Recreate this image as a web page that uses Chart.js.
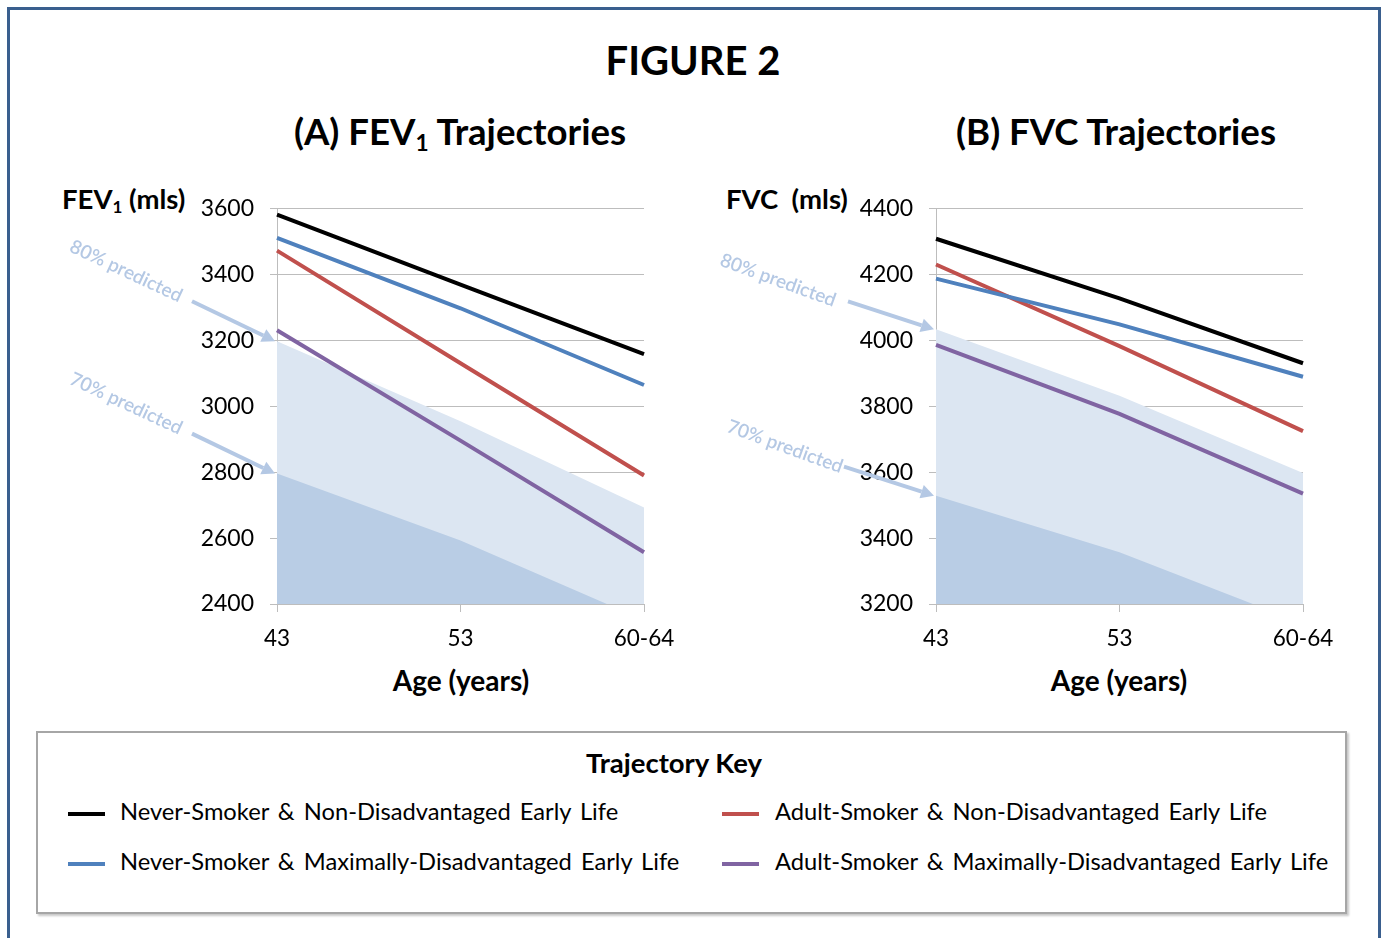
<!DOCTYPE html>
<html>
<head>
<meta charset="utf-8">
<script src="https://cdn.jsdelivr.net/npm/chart.js@4.4.1/dist/chart.umd.min.js"></script>
<style>
  html,body{margin:0;padding:0;background:#fff;width:1386px;height:938px;overflow:hidden;font-family:Lato,"Open Sans",sans-serif;color:#000;}
  .abs{position:absolute;}
  #frame{left:7px;top:7px;width:1368px;height:960px;border:3px solid #3a5f8e;box-sizing:content-box;}
  .ttl{font-weight:700;text-align:center;white-space:nowrap;}
  #fig{left:0;width:1386px;top:36px;font-size:40px;}
  #tA{left:260px;width:400px;top:109px;font-size:36.6px;}
  #tB{left:916px;width:400px;top:109px;font-size:36.6px;}
  .yt{font-weight:700;font-size:27.5px;white-space:pre;}
  .xt{font-weight:700;font-size:28px;text-align:center;width:300px;}
  sub{font-size:62%;vertical-align:-0.25em;line-height:0;}
  #legend{left:36px;top:731px;width:1307px;height:179px;border:2px solid #a6a6a6;box-shadow:2px 2px 2px #c8c8c8;background:#fff;}
  #legTitle{left:0;width:1272px;top:13px;text-align:center;font-weight:700;font-size:27.5px;}
  .li{position:absolute;font-size:23.7px;white-space:nowrap;word-spacing:3px;}
  .sw{position:absolute;height:4px;width:37px;}
  canvas{position:absolute;}
</style>
</head>
<body>
<div id="frame" class="abs"></div>
<div id="fig" class="abs ttl">FIGURE 2</div>
<div id="tA" class="abs ttl">(A) FEV<sub>1</sub> Trajectories</div>
<div id="tB" class="abs ttl">(B) FVC Trajectories</div>
<div class="abs yt" style="left:62px;top:182px;">FEV<sub>1</sub> (mls)</div>
<div class="abs yt" style="left:726px;top:182px;">FVC  (mls)</div>
<div class="abs xt" style="left:311px;top:663px;">Age (years)</div>
<div class="abs xt" style="left:969px;top:663px;">Age (years)</div>
<canvas id="cA" width="660" height="521" style="left:40px;top:179px;"></canvas>
<canvas id="cB" width="660" height="521" style="left:700px;top:179px;"></canvas>
<div id="legend" class="abs"><div id="legTitle" class="abs">Trajectory Key</div></div>
<script>
// ---------- data ----------
const ageLabels = ['43', '53', '60-64'];
const seriesLabels = [
  'Never-Smoker & Non-Disadvantaged Early Life',
  'Never-Smoker & Maximally-Disadvantaged Early Life',
  'Adult-Smoker & Non-Disadvantaged Early Life',
  'Adult-Smoker & Maximally-Disadvantaged Early Life'
];
const annotLabels = ['80% predicted', '70% predicted'];

// (A) FEV1 (mls)
const fevNeverNonDis = [3582, 3370, 3159];
const fevNeverMaxDis = [3512, 3298, 3065];
const fevAdultNonDis = [3473, 3131, 2790];
const fevAdultMaxDis = [3231, 2896, 2557];
const fev80Pred = [3198, 2955, 2693];
const fev70Pred = [2796, 2593, 2351];
const fevTicks = [2400, 3600, 200]; // min, max, step

// (B) FVC (mls)
const fvcNeverNonDis = [4309, 4128, 3931];
const fvcNeverMaxDis = [4188, 4049, 3890];
const fvcAdultNonDis = [4231, 3983, 3725];
const fvcAdultMaxDis = [3987, 3777, 3535];
const fvc80Pred = [4034, 3832, 3598];
const fvc70Pred = [3529, 3357, 3141];
const fvcTicks = [3200, 4400, 200];

// ---------- style ----------
const lineColors = ['#000000', '#4f81bd', '#c0504d', '#8064a2'];
const fill80 = '#dce6f2';
const fill70 = '#b9cde5';
const annotColor = '#b4c8e4';
const gridColor = '#bdbdbd';
const FONT = 'Lato, "Open Sans", sans-serif';

// legend
(function(){
  const lg = document.getElementById('legend');
  const pos = [[30, 82, 81], [30, 82, 131], [684, 737, 81], [684, 737, 131]];
  seriesLabels.forEach((s, i) => {
    const [sx, tx, y] = pos[i];
    const sw = document.createElement('div');
    sw.className = 'sw'; sw.style.left = sx + 'px'; sw.style.top = (y - 2) + 'px';
    sw.style.background = lineColors[i];
    lg.appendChild(sw);
    const t = document.createElement('div');
    t.className = 'li'; t.style.left = tx + 'px'; t.style.top = (y - 17) + 'px';
    t.textContent = s;
    lg.appendChild(t);
  });
})();

const annotPlugin = {
  id: 'predAnnot',
  afterDatasetsDraw(chart, args, opts) {
    const ctx = chart.ctx;
    const xs = chart.scales.x, ys = chart.scales.y;
    opts.items.forEach(it => {
      const ds = chart.data.datasets[it.dataset];
      const tx = xs.getPixelForValue(0) - 2;
      const ty = ys.getPixelForValue(ds.data[0]);
      ctx.save();
      ctx.strokeStyle = annotColor; ctx.fillStyle = annotColor;
      ctx.lineWidth = 4;
      const sx = tx + it.arrow[0], sy = ty + it.arrow[1];
      const ang = Math.atan2(ty - sy, tx - sx);
      const hl = 13;
      const bx = tx - hl * Math.cos(ang), by = ty - hl * Math.sin(ang);
      ctx.beginPath(); ctx.moveTo(sx, sy); ctx.lineTo(bx, by); ctx.stroke();
      ctx.beginPath();
      ctx.moveTo(tx, ty);
      ctx.lineTo(bx + 7 * Math.sin(ang), by - 7 * Math.cos(ang));
      ctx.lineTo(bx - 7 * Math.sin(ang), by + 7 * Math.cos(ang));
      ctx.closePath(); ctx.fill();
      ctx.translate(tx + it.text[0], ty + it.text[1]);
      ctx.rotate(it.rot * Math.PI / 180);
      ctx.font = '600 19px ' + FONT;
      ctx.textAlign = 'center'; ctx.textBaseline = 'middle';
      ctx.fillText(it.label, 0, 0);
      ctx.restore();
    });
  }
};

function makeChart(id, series, p80, p70, ticks, yWidth, padRight, annot) {
  const datasets = series.map((d, i) => ({
    label: seriesLabels[i], data: d, borderColor: lineColors[i], borderWidth: 4,
    pointRadius: 0, fill: false, tension: 0
  }));
  datasets.push({ label: annotLabels[1], data: p70, borderWidth: 0, borderColor: 'rgba(0,0,0,0)',
    backgroundColor: fill70, fill: 'start', pointRadius: 0 });
  datasets.push({ label: annotLabels[0], data: p80, borderWidth: 0, borderColor: 'rgba(0,0,0,0)',
    backgroundColor: fill80, fill: 'start', pointRadius: 0 });
  return new Chart(document.getElementById(id), {
    type: 'line',
    data: { labels: ageLabels, datasets },
    plugins: [annotPlugin],
    options: {
      responsive: false, animation: false,
      layout: { padding: { top: 6, right: padRight, left: 0, bottom: 0 } },
      plugins: { legend: { display: false }, tooltip: { enabled: false }, title: { display: false },
        predAnnot: { items: annot } },
      scales: {
        x: {
          type: 'category', offset: false,
          grid: { drawOnChartArea: false, drawTicks: true, tickLength: 8, color: gridColor, lineWidth: 1 },
          border: { display: true, color: gridColor, width: 1 },
          ticks: { color: '#000', font: { family: FONT, size: 22.5 }, padding: 13, maxRotation: 0, autoSkip: false },
          afterFit: s => { s.height = 96; }
        },
        y: {
          min: ticks[0], max: ticks[1],
          grid: { drawOnChartArea: true, drawTicks: true, tickLength: 7, color: gridColor, lineWidth: 1 },
          border: { display: true, color: gridColor, width: 1 },
          ticks: { stepSize: ticks[2], color: '#000', font: { family: FONT, size: 23 }, padding: 16,
                   callback: v => String(v) },
          afterFit: s => { s.width = yWidth; }
        }
      }
    }
  });
}

makeChart('cA', [fevNeverNonDis, fevNeverMaxDis, fevAdultNonDis, fevAdultMaxDis], fev80Pred, fev70Pred,
  fevTicks, 237, 56, [
    { dataset: 5, label: annotLabels[0], arrow: [-83, -40], text: [-149, -70], rot: 25 },
    { dataset: 4, label: annotLabels[1], arrow: [-83, -40], text: [-149, -70], rot: 25 }
  ]);
makeChart('cB', [fvcNeverNonDis, fvcNeverMaxDis, fvcAdultNonDis, fvcAdultMaxDis], fvc80Pred, fvc70Pred,
  fvcTicks, 236, 57, [
    { dataset: 5, label: annotLabels[0], arrow: [-86, -28], text: [-156, -49], rot: 20 },
    { dataset: 4, label: annotLabels[1], arrow: [-90, -29], text: [-149, -49], rot: 20 }
  ]);
</script>
</body>
</html>
